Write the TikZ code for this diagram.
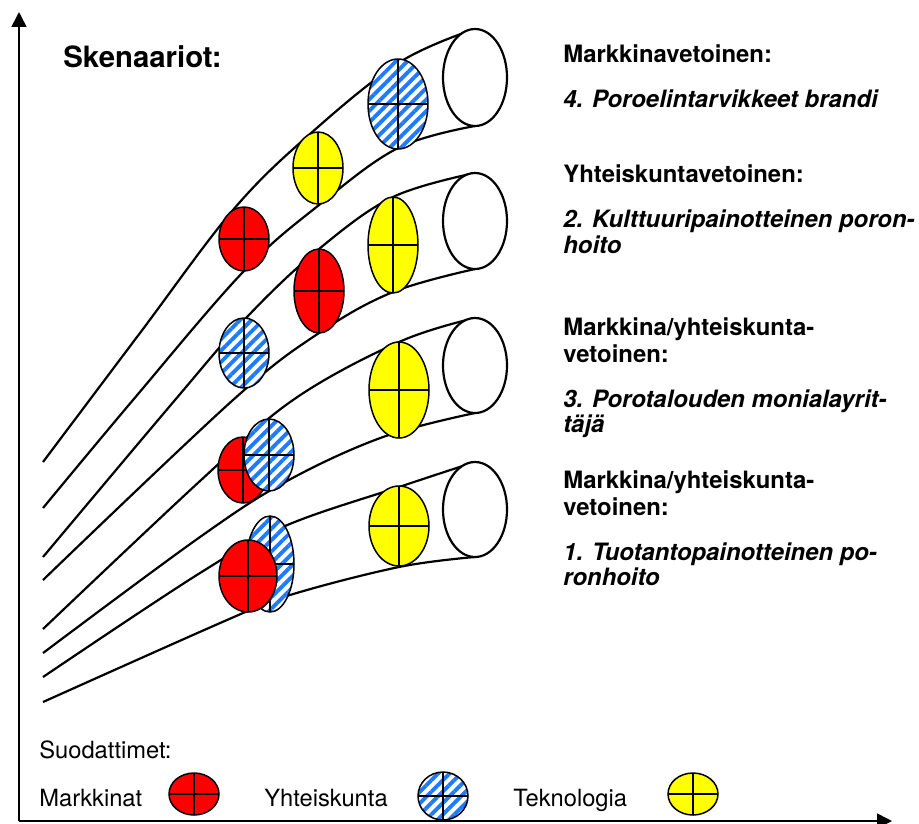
\documentclass[tikz,border=0pt]{standalone}
\usepackage{fontspec}
\setmainfont{TeX Gyre Heros}
\usetikzlibrary{arrows.meta,patterns.meta}
\definecolor{hatchblue}{RGB}{30,122,255}
\definecolor{fred}{RGB}{255,0,0}
\definecolor{fyellow}{RGB}{255,255,0}
\newcommand{\filterell}[5]{%
  \path[#1] (#2,#3) ellipse [x radius=#4, y radius=#5];
  \draw[crossline] (#2-#4,#3) -- (#2+#4,#3) (#2,#3-#5) -- (#2,#3+#5);
  \draw[ellout] (#2,#3) ellipse [x radius=#4, y radius=#5];
}
\begin{document}
\begin{tikzpicture}[x=0.02cm,y=-0.02cm,
  tubeline/.style={line width=1.25pt},
  crossline/.style={line width=0.8pt},
  ellout/.style={line width=0.85pt},
  endell/.style={fill=white,draw,line width=1.25pt},
  redf/.style={fill=fred},
  yelf/.style={fill=fyellow},
  bluef/.style={fill=white,postaction={pattern={Lines[angle=45,distance=4.6pt,line width=2.2pt]},pattern color=hatchblue}},
  axis/.style={line width=0.95pt,-{Triangle[length=8.5pt,width=8.5pt]}},
  txt/.style={inner sep=0pt,anchor=base west,font=\fontsize{13.5}{16}\selectfont},
  btxt/.style={txt,font=\fontsize{13.6}{16}\selectfont\bfseries},
  bitxt/.style={txt,font=\fontsize{13.6}{16}\selectfont\bfseries\itshape}]
\useasboundingbox (0,0) rectangle (919,823);

% axes
\coordinate (origin) at (19,821);
\coordinate (ytip) at (19,12);
\coordinate (xtip) at (892,821);
\draw[axis] (origin) -- (ytip);
\draw[axis] (origin) -- (xtip);

% tube curves
\draw[tubeline] plot[smooth,tension=0.6] coordinates {(43,462) (140,333) (233,210) (310,134) (400,62) (475,29)};
\draw[tubeline] plot[smooth,tension=0.6] coordinates {(43,508) (133,400) (243,272) (319,205) (398,148) (475,126)};
\draw[tubeline] plot[smooth,tension=0.6] coordinates {(43,557) (175,400) (247,317) (319,249) (393,197) (475,173)};
\draw[tubeline] plot[smooth,tension=0.6] coordinates {(43,580) (233,400) (319,333) (393,292) (475,269)};
\draw[tubeline] plot[smooth,tension=0.6] coordinates {(43,629) (200,481) (293,400) (399,342) (475,318)};
\draw[tubeline] plot[smooth,tension=0.6] coordinates {(43,653) (200,537) (287,481) (383,437) (475,413)};
\draw[tubeline] plot[smooth,tension=0.6] coordinates {(43,677) (200,573) (285,526) (399,487) (475,462)};
\draw[tubeline] plot[smooth,tension=0.6] coordinates {(43,702) (227,620) (290,595) (399,567) (475,557)};

% tube end ellipses
\draw[endell] (475,77.5) ellipse [x radius=32, y radius=48.5];
\draw[endell] (475,221) ellipse [x radius=32, y radius=48];
\draw[endell] (475,365.5) ellipse [x radius=32, y radius=47.5];
\draw[endell] (475,509.5) ellipse [x radius=32, y radius=47.5];

% tube 1 filters
\filterell{redf}{244}{239}{25}{32}
\filterell{yelf}{318}{168}{25}{36}
\filterell{bluef}{398}{104}{30}{45}
% tube 2
\filterell{bluef}{244}{353}{25}{35}
\filterell{redf}{319}{291}{25}{42}
\filterell{yelf}{393}{245}{25}{48}
% tube 3
\filterell{redf}{243}{470}{25}{33}
\filterell{bluef}{269}{455}{25}{36}
\filterell{yelf}{399}{390}{30}{48}
% tube 4
\filterell{bluef}{270}{564}{24}{48}
\filterell{redf}{248}{576}{29}{36}
\filterell{yelf}{399}{526}{30}{40}

% titles
\node[txt,font=\fontsize{16.7}{20}\selectfont\bfseries] (title) at (63,67) {Skenaariot:};

\node[btxt] (s4a) at (563,62) {Markkinavetoinen:};
\node[bitxt] (s4b) at (563,107) {4. Poroelintarvikkeet brandi};
\node[btxt] (s2a) at (563,182) {Yhteiskuntavetoinen:};
\node[bitxt] (s2b) at (563,227) {2. Kulttuuripainotteinen poron-};
\node[bitxt] (s2c) at (563,253) {hoito};
\node[btxt] (s3a) at (563,335) {Markkina/yhteiskunta-};
\node[btxt] (s3b) at (563,362) {vetoinen:};
\node[bitxt] (s3c) at (563,407) {3. Porotalouden monialayrit-};
\node[bitxt] (s3d) at (563,432) {täjä};
\node[btxt] (s1a) at (563,488) {Markkina/yhteiskunta-};
\node[btxt] (s1b) at (563,515) {vetoinen:};
\node[bitxt] (s1c) at (563,560) {1. Tuotantopainotteinen po-};
\node[bitxt] (s1d) at (563,585) {ronhoito};

% legend
\node[txt] (legtitle) at (39,758) {Suodattimet:};
\node[txt] (legm) at (39,806) {Markkinat};
\filterell{redf}{194}{794}{25}{21}
\node[txt] (legy) at (264,806) {Yhteiskunta};
\filterell{bluef}{443}{796}{25}{24}
\node[txt] (legt) at (513,806) {Teknologia};
\filterell{yelf}{693}{794}{25}{21}
\end{tikzpicture}
\end{document}
